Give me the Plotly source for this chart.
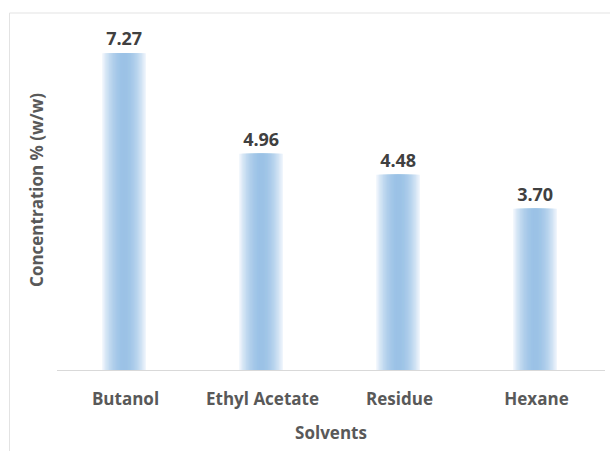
import plotly.graph_objects as go

# Extract concentration by solvent
solvents = ["Butanol", "Ethyl Acetate", "Residue", "Hexane"]
concentration = [7.27, 4.96, 4.48, 3.70]
value_labels = ["7.27", "4.96", "4.48", "3.70"]

EDGE = (244, 248, 253)
CENTER = (155, 194, 230)
HALF_WIDTH = 0.16   # half of the bar width, in category units
LAYERS = 16


def mix(t):
    r, g, b = (round(e + (c - e) * t) for e, c in zip(EDGE, CENTER))
    return f"rgb({r},{g},{b})"


fig = go.Figure()

# Horizontal gradient bars: nested overlaid bars, lighter outside, darker inside
for k in range(LAYERS):
    d_out = 1 - k / LAYERS
    d_mid = 1 - (k + 0.5) / LAYERS
    intensity = 1 - d_mid ** 2.0
    half = HALF_WIDTH * d_out
    fig.add_trace(go.Bar(
        x=solvents,
        y=concentration,
        width=2 * half,
        offset=-half - 0.01,
        marker=dict(color=mix(intensity), line=dict(width=0)),
        text=value_labels if k == 0 else None,
        textposition="outside" if k == 0 else "none",
        textfont=dict(family="Open Sans", size=18, color="#404040", weight="bold"),
        cliponaxis=False,
        showlegend=False,
        hoverinfo="skip",
    ))

fig.update_layout(
    width=610,
    height=451,
    margin=dict(l=57, r=5, t=10, b=81),
    barmode="overlay",
    paper_bgcolor="white",
    plot_bgcolor="white",
    font=dict(family="Open Sans", color="#595959"),
    xaxis=dict(
        showgrid=False,
        showline=True,
        linecolor="#d9d9d9",
        linewidth=1,
        ticks="",
        ticklabelstandoff=14,
        tickfont=dict(size=17, color="#595959", weight="bold"),
        title=dict(text="Solvents", font=dict(size=17, color="#595959", weight="bold"), standoff=17),
    ),
    yaxis=dict(
        range=[0, 8.26],
        showgrid=False,
        showline=False,
        showticklabels=False,
        ticks="",
        zeroline=False,
        title=dict(text="Concentration % (w/w)", font=dict(size=17, color="#595959", weight="bold"), standoff=8),
    ),
    shapes=[dict(
        type="rect", xref="paper", yref="paper",
        x0=-0.0867, x1=1.02, y0=-0.25, y1=0.9917,
        line=dict(color="#e3e3e3", width=1),
        fillcolor="rgba(0,0,0,0)",
        layer="below",
    )],
)

fig.write_html("out.html")
